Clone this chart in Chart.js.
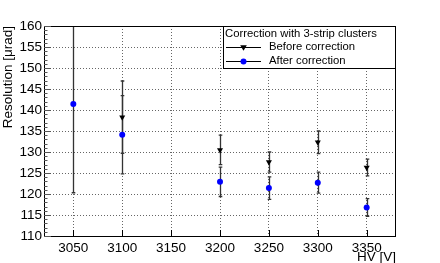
<!DOCTYPE html>
<html><head><meta charset="utf-8">
<script src="https://cdn.jsdelivr.net/npm/chart.js@4/dist/chart.umd.min.js"></script>
<style>html,body{margin:0;padding:0;background:#fff}#wrap{width:440px;height:263px}</style>
</head><body><div id="wrap"><canvas id="c" width="440" height="263"></canvas></div>
<script>
// ---- data ----
const hv = [3050, 3100, 3200, 3250, 3300, 3350];
const beforeVals = [null, 138.3, 130.5, 127.6, 132.3, 126.3];
const beforeErr  = [null, 8.6, 3.5, 2.4, 2.7, 2.0];
const afterVals  = [141.4, 134.1, 122.9, 121.4, 122.7, 116.8];
const afterErr   = [21.1, 9.3, 3.5, 2.7, 2.5, 2.1];
const xTicks = [3050, 3100, 3150, 3200, 3250, 3300, 3350];
const yTicks = [110, 115, 120, 125, 130, 135, 140, 145, 150, 155, 160];
const legendTitle = 'Correction with 3-strip clusters';
const seriesNames = ['Before correction', 'After correction'];
const xTitle = 'HV [V]';
const yTitle = 'Resolution [\u03bcrad]';

const FONT = 'Liberation Sans, Arial, Helvetica, sans-serif';

function pts(vals, errs) {
  const out = [];
  hv.forEach((x, i) => { if (vals[i] !== null) out.push({x: x, y: vals[i], e: errs[i]}); });
  return out;
}

function drawMarker(ctx, style, x, y, color) {
  ctx.save();
  ctx.fillStyle = color;
  ctx.beginPath();
  if (style === 'tri') {
    ctx.moveTo(x - 3.3, y - 2.3);
    ctx.lineTo(x + 3.3, y - 2.3);
    ctx.lineTo(x, y + 3.3);
    ctx.closePath();
  } else {
    ctx.arc(x, y, 3, 0, Math.PI * 2);
  }
  ctx.fill();
  ctx.restore();
}

const rootPlugin = {
  id: 'rootStyle',
  beforeDatasetsDraw(chart) {
    const {ctx, chartArea: a, scales: {x, y}} = chart;
    ctx.save();
    ctx.beginPath();
    ctx.rect(a.left, a.top, a.right - a.left, a.bottom - a.top);
    ctx.clip();
    ctx.strokeStyle = '#333';
    ctx.lineWidth = 1.3;
    chart.data.datasets.forEach(ds => {
      ds.data.forEach(p => {
        const px = Math.round(x.getPixelForValue(p.x)) + 0.5;
        const y1 = y.getPixelForValue(p.y + p.e);
        const y2 = y.getPixelForValue(p.y - p.e);
        ctx.beginPath();
        ctx.moveTo(px, y1); ctx.lineTo(px, y2);
        ctx.moveTo(px - 1.8, y1); ctx.lineTo(px + 1.8, y1);
        ctx.moveTo(px - 1.8, y2); ctx.lineTo(px + 1.8, y2);
        ctx.stroke();
      });
    });
    ctx.restore();
  },
  afterDatasetsDraw(chart) {
    const {ctx, chartArea: a, scales: {x, y}} = chart;
    ctx.save();
    // frame
    ctx.strokeStyle = '#000';
    ctx.lineWidth = 1;
    ctx.strokeRect(Math.round(a.left) + 0.5, Math.round(a.top) + 0.5,
                   Math.round(a.right - a.left) - 1, Math.round(a.bottom - a.top));
    // y ticks (inside), minor every 1 unit
    ctx.strokeStyle = '#555';
    ctx.beginPath();
    for (let v = y.min; v <= y.max + 1e-9; v += 1) {
      const py = Math.round(y.getPixelForValue(v)) + 0.5;
      const major = Math.abs(v % 5) < 1e-6;
      ctx.moveTo(a.left, py);
      ctx.lineTo(a.left + (major ? 7 : 3.5), py);
    }
    ctx.stroke();
    // x ticks (inside)
    ctx.strokeStyle = '#000';
    ctx.beginPath();
    xTicks.forEach(v => {
      const px = Math.round(x.getPixelForValue(v)) + 0.5;
      ctx.moveTo(px, a.bottom);
      ctx.lineTo(px, a.bottom - 6);
    });
    ctx.stroke();

    // legend box
    const L = 223, T = a.top, R = a.right, B = 68;
    ctx.fillStyle = '#fff';
    ctx.fillRect(L, T, R - L, B - T);
    ctx.strokeStyle = '#000';
    ctx.strokeRect(L + 0.5, T + 0.5, R - L - 1, B - T);
    ctx.fillStyle = '#000';
    ctx.font = '11.3px ' + FONT;
    ctx.textBaseline = 'middle';
    ctx.textAlign = 'left';
    ctx.fillText(legendTitle, L + 2, T + 8);
    const rows = [
      {y: T + 20.5, style: 'tri', color: '#000', name: chart.data.datasets[0].label},
      {y: T + 35, style: 'dot', color: '#0000ff', name: chart.data.datasets[1].label}
    ];
    rows.forEach(r => {
      ctx.strokeStyle = '#000';
      ctx.lineWidth = 1;
      ctx.beginPath();
      ctx.moveTo(L + 3, Math.round(r.y) + 0.5);
      ctx.lineTo(L + 38, Math.round(r.y) + 0.5);
      ctx.stroke();
      drawMarker(ctx, r.style, L + 20.5, Math.round(r.y) + 0.5, r.color);
      ctx.fillStyle = '#000';
      ctx.fillText(r.name, L + 46, r.y);
    });
    ctx.restore();
  }
};

new Chart(document.getElementById('c'), {
  type: 'scatter',
  data: {
    datasets: [
      {label: seriesNames[0], data: pts(beforeVals, beforeErr),
       pointStyle: 'triangle', rotation: 180, radius: 3.5, borderWidth: 0,
       backgroundColor: '#000', borderColor: '#000'},
      {label: seriesNames[1], data: pts(afterVals, afterErr),
       pointStyle: 'circle', radius: 3, borderWidth: 0,
       backgroundColor: '#0000ff', borderColor: '#0000ff'}
    ]
  },
  options: {
    responsive: false,
    animation: false,
    devicePixelRatio: 1,
    layout: {padding: {top: 26, right: 44, left: 0, bottom: 0}},
    plugins: {legend: {display: false}, tooltip: {enabled: false}},
    scales: {
      x: {
        type: 'linear', min: 3020, max: 3380,
        afterBuildTicks: s => { s.ticks = xTicks.map(v => ({value: v})); },
        afterFit: s => { s.height = 27; },
        grid: {color: '#666', lineWidth: 1, drawTicks: false},
        border: {display: false, dash: [1, 2]},
        ticks: {padding: 4, color: '#000', font: {family: FONT, size: 13.5},
                callback: v => String(v), maxRotation: 0, autoSkip: false},
        title: {display: true, text: xTitle, align: 'end', color: '#000',
                font: {family: FONT, size: 13.5}, padding: {top: 0, bottom: -2}}
      },
      y: {
        min: 110, max: 160,
        afterBuildTicks: s => { s.ticks = yTicks.map(v => ({value: v})); },
        afterFit: s => { s.width = 44; },
        grid: {color: '#666', lineWidth: 1, drawTicks: false},
        border: {display: false, dash: [1, 2]},
        ticks: {padding: 2, color: '#000', font: {family: FONT, size: 13.5},
                callback: v => String(v), autoSkip: false},
        title: {display: true, text: yTitle, align: 'end', color: '#000',
                font: {family: FONT, size: 13.5}, padding: {top: 0, bottom: 0}}
      }
    }
  },
  plugins: [rootPlugin]
});
</script>
</body></html>
